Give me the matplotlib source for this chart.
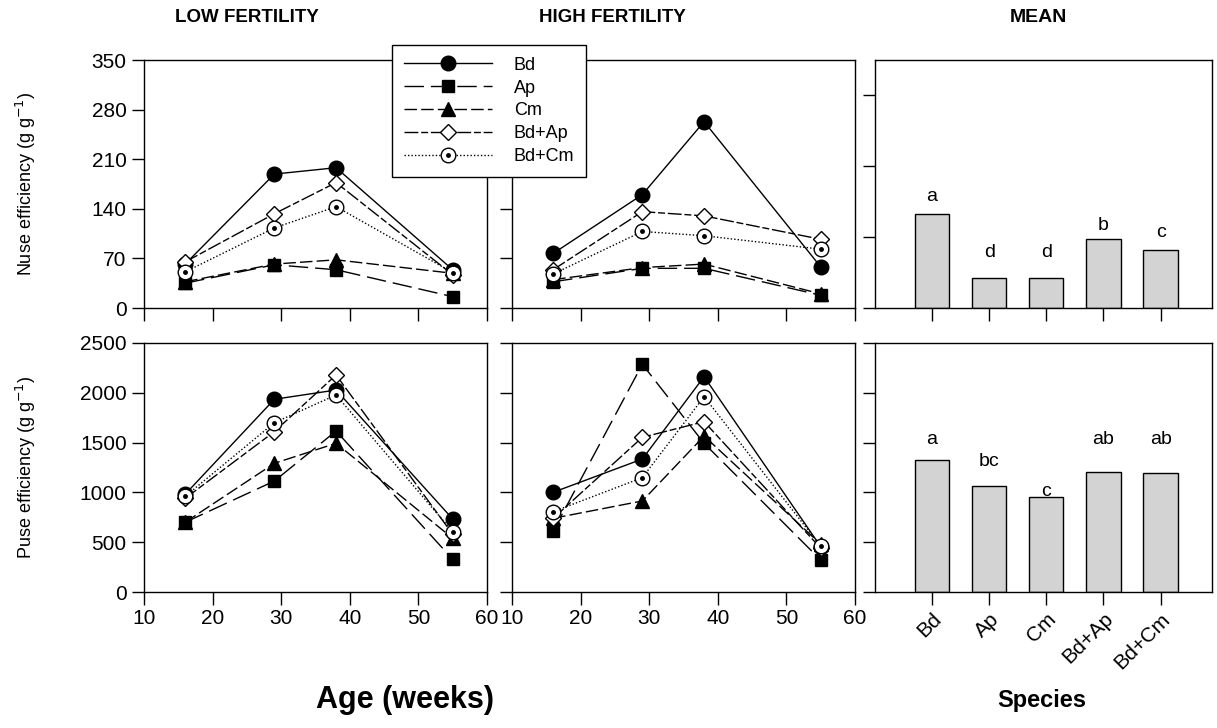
import matplotlib.pyplot as plt
import numpy as np

plt.rcParams['font.family'] = ['Liberation Sans', 'DejaVu Sans']

weeks = [16, 29, 38, 55]
species = ['Bd', 'Ap', 'Cm', 'Bd+Ap', 'Bd+Cm']

# rows follow the species order
n_low = [[62, 189, 198, 54], [35, 61, 54, 16], [37, 62, 68, 49],
         [65, 133, 177, 47], [51, 113, 143, 50]]
n_high = [[77, 160, 263, 58], [37, 56, 56, 18], [40, 57, 62, 20],
          [54, 136, 130, 97], [48, 108, 102, 83]]
p_low = [[981, 1935, 2028, 733], [700, 1114, 1616, 328], [700, 1292, 1493, 539],
         [940, 1610, 2179, 580], [960, 1700, 1978, 605]]
p_high = [[1001, 1335, 2162, 455], [612, 2286, 1493, 321], [740, 914, 1566, 480],
          [740, 1553, 1710, 440], [806, 1148, 1961, 460]]

n_mean = [133, 42, 42, 98, 82]
p_mean = [1325, 1061, 954, 1208, 1198]
n_letters = ['a', 'd', 'd', 'b', 'c']
n_letter_y = [157, 78, 78, 117, 107]
p_letters = ['a', 'bc', 'c', 'ab', 'ab']
p_letter_y = [1536, 1308, 1007, 1536, 1536]

styles = [
    dict(ls='-', marker='o', mfc='black', ms=10.5),
    dict(ls=(0, (14, 5)), marker='s', mfc='black', ms=9),
    dict(ls=(0, (9, 3)), marker='^', mfc='black', ms=10.5),
    dict(ls=(0, (10, 2, 5, 2)), marker='D', mfc='white', ms=8),
    dict(ls=(0, (1, 1.5)), marker='o', mfc='white', ms=10.5),
]

W, H = 1217, 728
fig = plt.figure(figsize=(W / 100, H / 100), dpi=100)

def px_axes(x0, y0, x1, y1):
    return fig.add_axes([x0 / W, 1 - y1 / H, (x1 - x0) / W, (y1 - y0) / H])

cols = [(144, 487), (512, 855), (875, 1212)]
rows = [(60, 308), (343, 592)]

axes = [[px_axes(c[0], r[0], c[1], r[1]) for c in cols] for r in rows]

for ax in np.ravel(axes):
    ax.tick_params(direction='out', length=9, width=1, labelsize=15)
    for s in ax.spines.values():
        s.set_linewidth(1)

panels = [[n_low, n_high], [p_low, p_high]]
ylims = [(0, 350), (0, 2500)]
yticks = [np.arange(0, 351, 70), np.arange(0, 2501, 500)]

handles = []
for r in range(2):
    for c in range(2):
        ax = axes[r][c]
        for i, vals in enumerate(panels[r][c]):
            st = styles[i]
            ln, = ax.plot(weeks, vals, color='black', lw=1, ls=st['ls'],
                          marker=st['marker'], ms=st['ms'], mfc=st['mfc'],
                          mec='black', mew=1)
            h = ln
            if i == 4:
                # centre dot of the open circles
                dot, = ax.plot(weeks, vals, ls='none', marker='o', ms=2.5,
                               color='black')
                h = (ln, dot)
            if r == 0 and c == 0:
                handles.append(h)
        ax.set_xlim(10, 60)
        ax.set_ylim(*ylims[r])
        ax.set_xticks([10, 20, 30, 40, 50, 60])
        ax.set_yticks(yticks[r])
        if r == 0:
            ax.set_xticklabels([])
        if c == 1:
            ax.set_yticklabels([])

means = [n_mean, p_mean]
letters = [n_letters, p_letters]
letter_y = [n_letter_y, p_letter_y]
xpos = np.arange(1, 6)
for r in range(2):
    ax = axes[r][2]
    ax.bar(xpos, means[r], width=0.6, color='lightgray', edgecolor='black', lw=1)
    for x, t, y in zip(xpos, letters[r], letter_y[r]):
        ax.text(x, y, t, ha='center', va='center', fontsize=14)
    ax.set_xlim(0, 5.9)
    ax.set_ylim(*ylims[r])
    ax.set_yticks(yticks[r] if r == 1 else [0, 100, 200, 300])
    ax.set_yticklabels([])
    ax.set_xticks(xpos)
    if r == 0:
        ax.set_xticklabels([])
    else:
        ax.set_xticklabels(species, rotation=45, ha='right', va='top',
                           rotation_mode='anchor', fontsize=15)

axes[0][0].set_ylabel('Nuse efficiency (g g$^{-1}$)', fontsize=13)
axes[1][0].set_ylabel('Puse efficiency (g g$^{-1}$)', fontsize=13)
axes[0][0].yaxis.set_label_coords(-0.31, 0.5)
axes[1][0].yaxis.set_label_coords(-0.31, 0.5)

fig.text(247 / W, 1 - 17 / H, 'LOW FERTILITY', ha='center', va='center',
         fontsize=13.5, fontweight='bold')
fig.text(612 / W, 1 - 17 / H, 'HIGH FERTILITY', ha='center', va='center',
         fontsize=13.5, fontweight='bold')
fig.text(1038 / W, 1 - 17 / H, 'MEAN', ha='center', va='center',
         fontsize=14, fontweight='bold')
fig.text(405 / W, 1 - 700 / H, 'Age (weeks)', ha='center', va='center',
         fontsize=22, fontweight='bold')
fig.text(1042 / W, 1 - 700 / H, 'Species', ha='center', va='center',
         fontsize=17, fontweight='bold')

leg = fig.legend(handles=handles, labels=species, loc='upper left',
                 bbox_to_anchor=(392 / W, 1 - 45 / H), borderaxespad=0,
                 fontsize=13, handlelength=4.9, labelspacing=0.32,
                 handletextpad=1.2, borderpad=0.65, fancybox=False,
                 framealpha=1, edgecolor='black')
leg.get_frame().set_linewidth(1)

fig.savefig('out.png', dpi=100)
